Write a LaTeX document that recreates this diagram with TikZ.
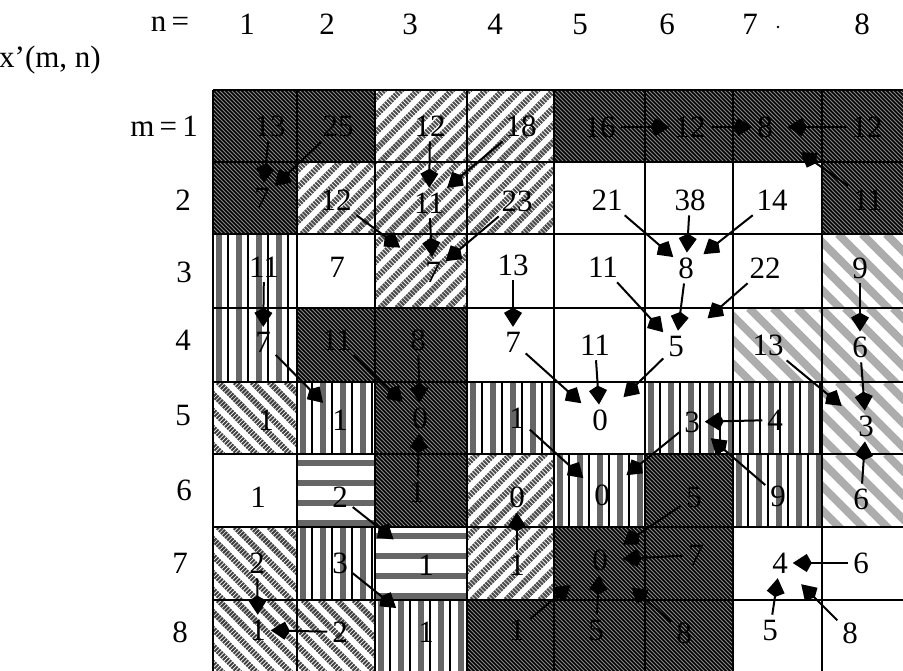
\documentclass[tikz,border=0pt]{standalone}
\usepackage{fontspec}
\setmainfont{Liberation Serif}
\usetikzlibrary{arrows.meta}
\newcommand\NumFnt{\fontsize{31}{36}\selectfont}
\newcommand\TexDark[4]{%
  \begin{scope}
    \clip (#1,#2) rectangle (#3,#4);
    \fill[black!45] (#1,#2) rectangle (#3,#4);
    \pgfmathsetmacro\TexW{#3-#1}
    \foreach \k in {-80,-76,...,\TexW} {\draw[line width=1.6pt] (#1+\k,#2) -- ++(80,80);}
  \end{scope}}
\newcommand\TexNE[4]{%
  \begin{scope}
    \clip (#1,#2) rectangle (#3,#4);
    \pgfmathsetmacro\TexW{#3-#1}
    \foreach \k in {-80,-63,...,\TexW} {\draw[line width=6pt,black!70,dash pattern=on 2pt off 1pt] (#1+\k,#4) -- ++(80,-80);}
  \end{scope}}
\newcommand\TexNW[4]{%
  \begin{scope}
    \clip (#1,#2) rectangle (#3,#4);
    \pgfmathsetmacro\TexW{#3-#1}
    \foreach \k in {-80,-63,...,\TexW} {\draw[line width=6pt,black!75,dash pattern=on 2pt off 1pt] (#1+\k,#2) -- ++(80,80);}
  \end{scope}}
\newcommand\TexLNW[4]{%
  \begin{scope}
    \clip (#1,#2) rectangle (#3,#4);
    \pgfmathsetmacro\TexW{#3-#1}
    \foreach \k in {-80,-56,...,\TexW} {\draw[line width=8pt,black!32] (#1+\k,#2) -- ++(80,80);}
  \end{scope}}
\newcommand\TexVS[4]{%
  \begin{scope}
    \clip (#1,#2) rectangle (#3,#4);
    \pgfmathsetmacro\TexW{#3-#1}
    \foreach \k in {3,23,...,\TexW} {\fill[black!60] (#1+\k,#2) rectangle (#1+\k+6,#4);
      \draw[line width=1.2pt] (#1+\k+12,#2) -- (#1+\k+12,#4);}
  \end{scope}}
\newcommand\TexHS[4]{%
  \begin{scope}
    \clip (#1,#2) rectangle (#3,#4);
    \pgfmathsetmacro\TexH{#4-#2}
    \foreach \k in {6,26,...,\TexH} {\fill[black!60] (#1,#2+\k) rectangle (#3,#2+\k+6);}
  \end{scope}}
\tikzset{
  num/.style={font=\NumFnt, inner sep=5pt, outer sep=0pt},
  lab/.style={font=\NumFnt, inner sep=0pt},
  arr/.style={line width=2pt, -{Kite[length=19pt,width=18pt,inset=5pt]}},
  gridline/.style={line width=2.2pt}
}
\begin{document}
\begin{tikzpicture}[x=1pt,y=-1pt]
\useasboundingbox (0,0) rectangle (903,670);
\fill[white] (0,0) rectangle (903,670);
\begin{scope}
\clip (0,0) rectangle (903,670);
% row 1
\TexDark{213}{90}{375}{162}
\TexNE{375}{90}{554}{162}
\TexDark{554}{90}{912}{162}
% row 2
\TexDark{213}{162}{297}{234}
\TexNE{297}{162}{554}{234}
\TexDark{822}{162}{912}{234}
% row 3
\TexVS{213}{234}{297}{308}
\TexNE{375}{234}{467}{308}
\TexLNW{822}{234}{912}{308}
% row 4
\TexVS{213}{308}{297}{382}
\TexDark{297}{308}{467}{382}
\TexLNW{733}{308}{912}{382}
% row 5
\TexNW{213}{382}{297}{454}
\TexVS{297}{382}{375}{454}
\TexDark{375}{382}{467}{454}
\TexVS{467}{382}{554}{454}
\TexVS{645}{382}{822}{454}
\TexLNW{822}{382}{912}{454}
% row 6
\TexHS{297}{454}{375}{527}
\TexDark{375}{454}{467}{527}
\TexNE{467}{454}{554}{527}
\TexVS{554}{454}{645}{527}
\TexDark{645}{454}{733}{527}
\TexVS{733}{454}{822}{527}
\TexLNW{822}{454}{912}{527}
% row 7
\TexNW{213}{527}{297}{600}
\TexVS{297}{527}{375}{600}
\TexHS{375}{527}{467}{600}
\TexNE{467}{527}{554}{600}
\TexDark{554}{527}{733}{600}
% row 8
\TexNW{213}{600}{375}{675}
\TexVS{375}{600}{467}{675}
\TexDark{467}{600}{733}{675}
% grid
\foreach \gy in {90,162,234,308,382,454,527,600} {\draw[gridline] (213,\gy) -- (912,\gy);}
\foreach \gx in {213,297,375,467,554,645,733,822} {\draw[gridline] (\gx,90) -- (\gx,675);}
\end{scope}
% headers
\node[lab] (nlab) at (170,24) {n\,=};
\node[lab] (h1) at (247,24) {1};
\node[lab] (h2) at (327,24) {2};
\node[lab] (h3) at (410,24) {3};
\node[lab] (h4) at (495,24) {4};
\node[lab] (h5) at (580,24) {5};
\node[lab] (h6) at (667,24) {6};
\node[lab] (h7) at (750,24) {7};
\node[lab] (h8) at (862,24) {8};
\fill (778,27) circle (1.3);
\node[lab,anchor=west] (xlab) at (-1,60) {x’(m, n)};
\node[lab,anchor=east] (m1) at (198,126) {m\,=\,1};
\node[lab] (m2) at (183,200) {2};
\node[lab] (m3) at (184,272) {3};
\node[lab] (m4) at (183,340) {4};
\node[lab] (m5) at (183,415) {5};
\node[lab] (m6) at (184,490) {6};
\node[lab] (m7) at (180,563) {7};
\node[lab] (m8) at (180,632) {8};
% values
\node[num] (c11) at (270,126) {13};
\node[num] (c12) at (338,126) {25};
\node[num] (c13) at (430,126) {12};
\node[num] (c14) at (521,126) {18};
\node[num] (c15) at (600,127) {16};
\node[num] (c16) at (690,127) {12};
\node[num] (c17) at (765,127) {8};
\node[num] (c18) at (867,127) {12};
\node[num] (c21) at (262,198) {7};
\node[num] (c22) at (336,200) {12};
\node[num] (c23) at (429,203) {11};
\node[num] (c24) at (517,201) {23};
\node[num] (c25) at (607,200) {21};
\node[num] (c26) at (690,200) {38};
\node[num] (c27) at (772,200) {14};
\node[num] (c28) at (868,200) {11};
\node[num] (c31) at (264,267) {11};
\node[num] (c32) at (337,267) {7};
\node[num] (c33) at (433,272) {7};
\node[num] (c34) at (513,265) {13};
\node[num] (c35) at (603,267) {11};
\node[num] (c36) at (686,268) {8};
\node[num] (c37) at (765,268) {22};
\node[num] (c38) at (860,268) {9};
\node[num] (c41) at (263,342) {7};
\node[num] (c42) at (337,340) {11};
\node[num] (c43) at (418,340) {8};
\node[num] (c44) at (513,342) {7};
\node[num] (c45) at (595,345) {11};
\node[num] (c46) at (676,346) {5};
\node[num] (c47) at (768,345) {13};
\node[num] (c48) at (860,347) {6};
\node[num] (c51) at (266,420) {1};
\node[num] (c52) at (340,420) {1};
\node[num] (c53) at (420,418) {0};
\node[num] (c54) at (517,418) {1};
\node[num] (c55) at (600,420) {0};
\node[num] (c56) at (692,422) {3};
\node[num] (c57) at (775,420) {4};
\node[num] (c58) at (866,426) {3};
\node[num] (c61) at (258,497) {1};
\node[num] (c62) at (340,497) {2};
\node[num] (c63) at (417,492) {1};
\node[num] (c64) at (517,497) {0};
\node[num] (c65) at (602,495) {0};
\node[num] (c66) at (694,497) {5};
\node[num] (c67) at (778,496) {9};
\node[num] (c68) at (861,499) {6};
\node[num] (c71) at (257,563) {2};
\node[num] (c72) at (340,563) {3};
\node[num] (c73) at (426,565) {1};
\node[num] (c74) at (517,565) {1};
\node[num] (c75) at (600,560) {0};
\node[num] (c76) at (696,555) {7};
\node[num] (c77) at (780,563) {4};
\node[num] (c78) at (861,563) {6};
\node[num] (c81) at (258,630) {1};
\node[num] (c82) at (340,632) {2};
\node[num] (c83) at (426,632) {1};
\node[num] (c84) at (517,630) {1};
\node[num] (c85) at (596,630) {5};
\node[num] (c86) at (684,633) {8};
\node[num] (c87) at (770,630) {5};
\node[num] (c88) at (850,633) {8};
% arrows
\draw[arr] (c11) -- (c21);
\draw[arr] (c12) -- (c21);
\draw[arr] (c13) -- (c23);
\draw[arr] (c14) -- (c23);
\draw[arr] (c15) -- (c16);
\draw[arr] (c16) -- (c17);
\draw[arr,shorten >=10pt] (c18) -- (c17);
\draw[arr,shorten >=28pt] (c28) -- (c17);
\draw[arr,shorten >=25pt] (c22) -- (c33);
\draw[arr] (c23) -- (c33);
\draw[arr] (c24) -- (c33);
\draw[arr] (c25) -- (c36);
\draw[arr] (c26) -- (c36);
\draw[arr,shorten >=6pt] (c27) -- (c36);
\draw[arr] (c31) -- (c41);
\draw[arr] (c34) -- (c44);
\draw[arr] (c35) -- (c46);
\draw[arr] (c36) -- (c46);
\draw[arr,shorten >=25pt] (c37) -- (c46);
\draw[arr] (c38) -- (c48);
\draw[arr,shorten >=6pt] (c41) -- (c52);
\draw[arr,shorten >=6pt] (c42) -- (c53);
\draw[arr] (c43) -- (c53);
\draw[arr,shorten >=8pt] (c44) -- (c55);
\draw[arr] (c45) -- (c55);
\draw[arr,shorten >=15pt] (c46) -- (c55);
\draw[arr,shorten >=15pt] (c47) -- (c58);
\draw[arr] (c48) -- (c58);
\draw[arr] (c63) -- (c53);
\draw[arr,shorten >=8pt] (c54) -- (c65);
\draw[arr] (c57) -- (c56);
\draw[arr,shorten >=8pt] (c67) -- (c56);
\draw[arr,shorten >=15pt] (c56) -- (c65);
\draw[arr] (c68) -- (c58);
\draw[arr,shorten >=25pt] (c62) -- (c73);
\draw[arr] (c74) -- (c64);
\draw[arr,shorten >=12pt] (c66) -- (c75);
\draw[arr,shorten >=10pt] (c76) -- (c75);
\draw[arr] (c85) -- (c75);
\draw[arr,shorten >=22pt] (c84) -- (c75);
\draw[arr,shorten >=25pt] (c86) -- (c75);
\draw[arr] (c71) -- (c81);
\draw[arr,shorten >=22pt] (c72) -- (c83);
\draw[arr] (c82) -- (c81);
\draw[arr] (c78) -- (c77);
\draw[arr] (c87) -- (c77);
\draw[arr,shorten >=12pt] (c88) -- (c77);
\end{tikzpicture}
\end{document}
